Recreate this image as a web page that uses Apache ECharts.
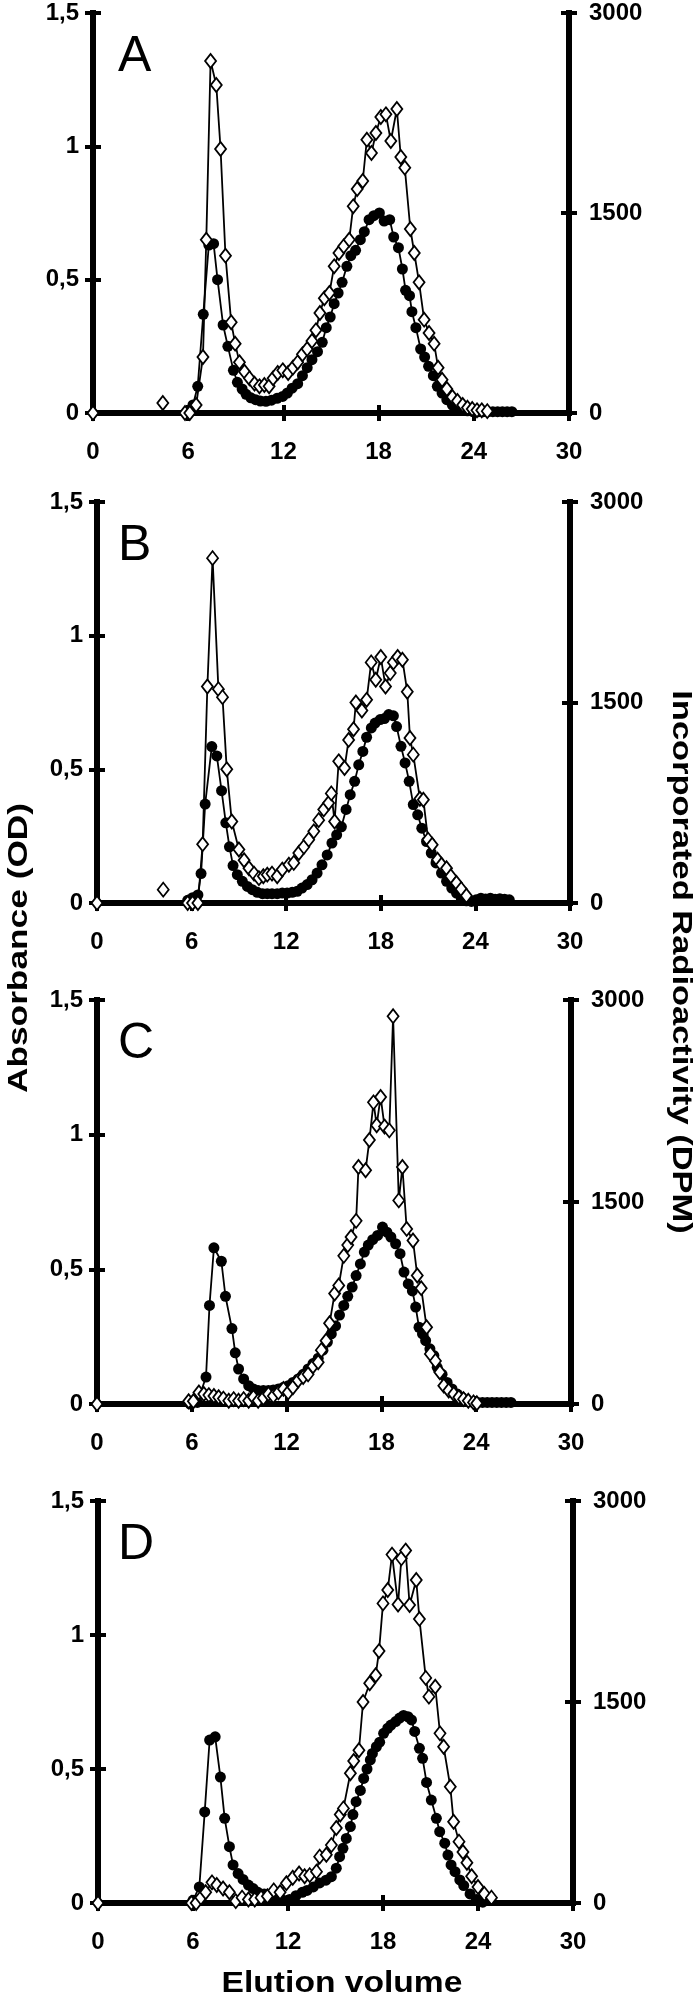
<!DOCTYPE html>
<html><head><meta charset="utf-8">
<script src="https://cdn.jsdelivr.net/npm/echarts@6/dist/echarts.min.js"></script>
<style>html,body{margin:0;padding:0;background:#fff}#c{width:700px;height:2007px}</style>
</head><body><div id="c"></div>
<script>
// ---- tick labels / titles ----
const volumeTicks = [0, 6, 12, 18, 24, 30];
const absTicks = [0, 0.5, 1, 1.5];
const dpmTicks = [0, 1500, 3000];
const panelLetters = ['A', 'B', 'C', 'D'];
const xTitle = 'Elution volume';
const leftTitle = 'Absorbance (OD)';
const rightTitle = 'Incorporated Radioactivity (DPM)';

// ---- Panel A ----
const aAbsVol = [6.0,6.3,6.6,6.95,7.3,7.6,7.85,8.2,8.5,8.85,9.1,9.4,9.65,9.95,10.25,10.55,10.9,11.25,11.6,11.95,12.25,12.55,12.9,13.2,13.5,13.8,14.15,14.45,14.7,14.95,15.2,15.45,15.7,16.0,16.25,16.55,16.85,17.1,17.4,17.7,18.05,18.35,18.7,18.95,19.25,19.5,19.7,19.95,20.1,20.35,20.65,20.9,21.15,21.45,21.7,22.0,22.3,22.65,22.95,23.3,23.6,23.95,24.3,24.6,24.9,25.2,25.5,25.8,26.1,26.4];
const aAbs = [0,0.03,0.10,0.37,0.63,0.635,0.50,0.33,0.25,0.16,0.115,0.09,0.07,0.057,0.05,0.045,0.044,0.048,0.055,0.062,0.075,0.093,0.11,0.14,0.17,0.20,0.23,0.265,0.32,0.36,0.41,0.45,0.49,0.55,0.59,0.61,0.65,0.68,0.725,0.74,0.75,0.72,0.725,0.66,0.62,0.54,0.46,0.44,0.38,0.32,0.24,0.21,0.175,0.14,0.10,0.075,0.05,0.03,0.02,0.012,0.008,0.005,0.005,0.005,0.005,0.005,0.005,0.005,0.005,0.005];
const aDpmVol = [0,2,4.4,5.1,5.8,6.1,6.5,6.93,7.14,7.41,7.77,8.04,8.35,8.71,8.96,9.23,9.55,9.86,10.18,10.49,10.8,11.1,11.35,11.64,11.96,12.3,12.6,12.9,13.2,13.5,13.8,14.05,14.3,14.58,14.9,15.2,15.5,15.8,16.15,16.4,16.65,17.0,17.26,17.55,17.83,18.14,18.46,18.77,19.15,19.4,19.65,20.0,20.25,20.55,20.87,21.18,21.5,21.75,22.0,22.3,22.65,22.97,23.3,23.6,23.9,24.2,24.5,24.85];
const aDpm = [0,null,75,null,0,0,60,420,1300,2640,2460,1980,1180,680,520,380,310,260,220,200,210,200,260,300,320,300,340,380,440,480,540,620,750,860,900,1100,1200,1250,1300,1550,1680,1740,2050,1950,2100,2220,2240,2040,2280,1920,1840,1380,1200,980,700,600,520,340,250,180,120,90,60,40,30,20,20,14];

// ---- Panel B ----
const bAbsVol = [5.75,6.06,6.4,6.6,6.86,7.28,7.6,7.9,8.17,8.4,8.63,8.9,9.22,9.54,9.85,10.17,10.5,10.8,11.1,11.43,11.75,12.06,12.38,12.7,13.0,13.33,13.64,13.96,14.27,14.6,14.9,15.2,15.5,15.8,16.06,16.34,16.6,16.86,17.1,17.4,17.64,17.96,18.23,18.5,18.8,19.0,19.28,19.54,19.8,20.06,20.34,20.6,20.9,21.2,21.5,21.85,22.17,22.5,22.8,23.1,23.43,23.75,24.05,24.35,24.65,24.95,25.25,25.55,25.85,26.15];
const bAbs = [0.01,0.02,0.03,0.11,0.37,0.585,0.55,0.42,0.30,0.21,0.14,0.106,0.081,0.062,0.05,0.04,0.035,0.035,0.035,0.035,0.037,0.037,0.04,0.044,0.056,0.069,0.087,0.112,0.143,0.18,0.224,0.255,0.285,0.35,0.405,0.455,0.517,0.567,0.62,0.655,0.673,0.686,0.69,0.705,0.70,0.66,0.586,0.524,0.455,0.368,0.33,0.28,0.23,0.187,0.15,0.112,0.081,0.056,0.037,0.019,0.008,0.006,0.012,0.018,0.015,0.018,0.014,0.016,0.014,0.012];
const bDpmVol = [0,2,4.2,5.0,5.75,6.06,6.4,6.7,7.0,7.33,7.7,7.96,8.23,8.55,9.0,9.33,9.64,9.96,10.27,10.55,10.8,11.1,11.43,11.75,12.17,12.48,12.8,13.12,13.43,13.75,14.06,14.38,14.69,14.86,15.07,15.33,15.7,15.96,16.27,16.42,16.8,17.1,17.39,17.68,18.0,18.3,18.6,18.8,19.07,19.37,19.68,19.85,20.06,20.48,20.7,21.0,21.26,21.6,21.85,22.17,22.44,22.8,23.1,23.43];
const bDpm = [0,null,100,null,0,0,0,440,1620,2580,1600,1540,1000,610,400,320,260,220,186,200,212,220,200,250,286,300,374,420,474,536,620,700,748,820,610,1060,1010,1220,1300,1500,1440,1520,1800,1670,1840,1620,1720,1800,1840,1820,1580,1234,1110,780,772,474,436,324,286,260,200,150,104,54];

// ---- Panel C ----
const cAbsVol = [5.9,6.35,6.9,7.12,7.4,7.87,8.13,8.54,8.75,8.96,9.28,9.6,9.9,10.2,10.53,10.85,11.16,11.48,11.8,12.1,12.4,12.73,13.05,13.36,13.67,14.0,14.3,14.58,14.83,15.1,15.35,15.62,15.87,16.15,16.4,16.67,16.92,17.17,17.45,17.76,18.07,18.35,18.6,18.9,19.18,19.43,19.7,19.96,20.17,20.38,20.6,20.8,21.07,21.32,21.53,21.84,22.16,22.47,22.8,23.1,23.4,23.8,24.1,24.4,24.7,25.0,25.3,25.6,25.9,26.2];
const cAbs = [0,0.006,0.10,0.366,0.58,0.53,0.40,0.28,0.19,0.13,0.093,0.068,0.056,0.05,0.05,0.05,0.052,0.056,0.062,0.068,0.08,0.093,0.11,0.13,0.15,0.17,0.20,0.23,0.26,0.29,0.33,0.366,0.40,0.434,0.477,0.52,0.564,0.59,0.61,0.626,0.657,0.638,0.62,0.595,0.558,0.49,0.446,0.42,0.36,0.285,0.26,0.235,0.205,0.18,0.136,0.11,0.08,0.056,0.037,0.025,0.012,0.006,0.006,0.006,0.006,0.006,0.006,0.006,0.006,0.006];
const cDpmVol = [0,3,5.8,6.1,6.45,6.76,7.08,7.4,7.7,8.0,8.34,8.65,8.96,9.28,9.6,9.9,10.2,10.53,10.85,11.16,11.48,11.8,12.1,12.4,12.73,13.05,13.36,13.67,14.0,14.2,14.5,14.72,15.04,15.3,15.62,15.87,16.08,16.4,16.55,17.0,17.24,17.5,17.7,17.95,18.2,18.5,18.74,19.1,19.33,19.6,20.0,20.27,20.52,20.86,21.1,21.42,21.7,21.95,22.26,22.58,22.9,23.2,23.5,23.83,24.04];
const cDpm = [0,null,20,20,86,74,66,60,50,40,24,36,24,36,24,50,24,44,74,60,86,112,86,124,174,200,220,280,310,400,470,600,820,880,1100,1180,1240,1360,1760,1736,1960,2240,2070,2280,2060,2032,2880,1512,1760,1300,1214,954,860,570,372,320,236,136,100,74,50,36,24,12,6];

// ---- Panel D ----
const dAbsVol = [6.0,6.4,6.74,7.05,7.4,7.73,8.0,8.3,8.53,8.85,9.16,9.5,9.8,10.1,10.5,10.9,11.3,11.7,12.1,12.5,12.9,13.2,13.6,14.0,14.4,14.74,15.05,15.26,15.47,15.68,15.94,16.1,16.3,16.57,16.78,16.99,17.2,17.33,17.58,17.79,18.04,18.3,18.5,18.8,19.05,19.3,19.58,19.8,20.0,20.3,20.5,20.75,21.05,21.37,21.58,21.9,22.1,22.3,22.55,22.85,23.1,23.5,23.9,24.3];
const dAbs = [0.01,0.06,0.34,0.608,0.62,0.47,0.316,0.21,0.142,0.11,0.088,0.067,0.054,0.04,0.034,0.027,0.015,0.01,0.013,0.027,0.04,0.047,0.06,0.075,0.085,0.098,0.13,0.173,0.204,0.241,0.285,0.33,0.378,0.42,0.465,0.50,0.534,0.558,0.583,0.60,0.633,0.652,0.664,0.677,0.69,0.70,0.695,0.683,0.64,0.577,0.54,0.45,0.384,0.316,0.266,0.223,0.179,0.142,0.117,0.086,0.065,0.034,0.013,0.003];
const dDpmVol = [0,3,5.9,6.2,6.5,6.8,7.2,7.5,7.9,8.3,8.7,9.1,9.5,9.9,10.3,10.7,11.1,11.5,11.9,12.3,12.7,13.05,13.37,13.8,14.0,14.42,14.74,15.05,15.3,15.5,15.94,16.15,16.48,16.74,17.16,17.54,17.75,18.0,18.3,18.57,18.95,19.16,19.43,19.68,20.1,20.3,20.7,20.9,21.3,21.6,21.83,22.25,22.46,22.8,23.05,23.3,23.6,24.0,24.4,24.85];
const dDpm = [0,null,0,0,40,80,154,134,108,80,14,40,26,26,40,50,94,80,148,188,220,200,208,234,346,360,432,560,660,706,968,1060,1140,1500,1640,1700,1880,2236,2336,2600,2228,2572,2630,2224,2410,2120,1680,1540,1614,1266,1166,868,606,458,380,300,200,120,68,40];

// ---- layout (positions only) ----
const layout = [
  {left: 93, right: 569, top: 13,   height: 400},
  {left: 97, right: 570, top: 502,  height: 401},
  {left: 97, right: 571, top: 1000, height: 404},
  {left: 98, right: 573, top: 1501, height: 402}
];
const panelData = [
  [aAbsVol, aAbs, aDpmVol, aDpm],
  [bAbsVol, bAbs, bDpmVol, bDpm],
  [cAbsVol, cAbs, cDpmVol, cDpm],
  [dAbsVol, dAbs, dDpmVol, dDpm]
];

const FONT = "'Liberation Sans Narrow','Liberation Sans',Arial,sans-serif";
const TFONT = "'Liberation Sans',Arial,sans-serif";
const zip = (xs, ys) => xs.map((x, i) => [x, ys[i] == null ? '-' : ys[i]]);

const grid = [], xAxis = [], yAxis = [], series = [], graphic = [];
const lineAx = {lineStyle: {color: '#000', width: 6, cap: 'square'}};
const tickOut = {show: true, inside: false, length: 8, lineStyle: {color: '#000', width: 4}};
const tickIn = {show: true, inside: true, length: 8, lineStyle: {color: '#000', width: 4}};
const lab = {color: '#000', fontSize: 24, fontWeight: 'bold', fontFamily: FONT, showMinLabel: true, showMaxLabel: true};

layout.forEach((L, i) => {
  grid.push({left: L.left, top: L.top, width: L.right - L.left, height: L.height, containLabel: false});
  const xBase = {gridIndex: i, type: 'value', min: volumeTicks[0], max: volumeTicks[volumeTicks.length - 1],
    interval: volumeTicks[1] - volumeTicks[0], position: 'bottom', axisLine: lineAx, splitLine: {show: false}};
  xAxis.push(Object.assign({}, xBase, {axisTick: tickOut, axisLabel: Object.assign({}, lab, {margin: 27})}));
  xAxis.push(Object.assign({}, xBase, {axisTick: tickIn, axisLabel: {show: false}}));
  const yL = {gridIndex: i, type: 'value', position: 'left', min: absTicks[0], max: absTicks[absTicks.length - 1],
    interval: absTicks[1] - absTicks[0], axisLine: Object.assign({show: true}, lineAx), splitLine: {show: false}};
  yAxis.push(Object.assign({}, yL, {axisTick: tickOut,
    axisLabel: Object.assign({}, lab, {margin: 14, formatter: v => String(v).replace('.', ',')})}));
  yAxis.push(Object.assign({}, yL, {axisTick: tickIn, axisLabel: {show: false}}));
  const yR = {gridIndex: i, type: 'value', position: 'right', min: dpmTicks[0], max: dpmTicks[dpmTicks.length - 1],
    interval: dpmTicks[1] - dpmTicks[0], axisLine: Object.assign({show: true}, lineAx), splitLine: {show: false}};
  yAxis.push(Object.assign({}, yR, {axisTick: tickOut,
    axisLabel: Object.assign({}, lab, {margin: 20, formatter: v => String(v)})}));
  yAxis.push(Object.assign({}, yR, {axisTick: tickIn, axisLabel: {show: false}}));

  const [av, a, dv, d] = panelData[i];
  series.push({type: 'line', xAxisIndex: 2 * i, yAxisIndex: 4 * i, data: zip(av, a),
    symbol: 'circle', symbolSize: 11, itemStyle: {color: '#000'},
    lineStyle: {color: '#000', width: 1.8}, clip: false, z: 3, emphasis: {disabled: true}});
  series.push({type: 'line', xAxisIndex: 2 * i, yAxisIndex: 4 * i + 2, data: zip(dv, d),
    symbol: 'diamond', symbolSize: [11, 14], itemStyle: {color: '#fff', borderColor: '#000', borderWidth: 1.8},
    lineStyle: {color: '#000', width: 1.8}, clip: false, z: 4, emphasis: {disabled: true}});

  graphic.push({type: 'text', x: 118, y: L.top + 44, z: 10,
    style: {text: panelLetters[i], fontSize: 50, fontWeight: 'normal', fontFamily: TFONT,
      fill: '#000', align: 'left', verticalAlign: 'middle'}});
});

graphic.push({type: 'text', x: 19, y: 948, rotation: Math.PI / 2, scaleX: 1.26, z: 10,
  style: {text: leftTitle, fontSize: 28, fontWeight: 'bold', fontFamily: TFONT,
    fill: '#000', align: 'center', verticalAlign: 'middle'}});
graphic.push({type: 'text', x: 681, y: 962, rotation: -Math.PI / 2, scaleX: 1.23, z: 10,
  style: {text: rightTitle, fontSize: 28, fontWeight: 'bold', fontFamily: TFONT,
    fill: '#000', align: 'center', verticalAlign: 'middle'}});
graphic.push({type: 'text', x: 342, y: 1984, scaleX: 1.12, z: 10,
  style: {text: xTitle, fontSize: 30, fontWeight: 'bold', fontFamily: TFONT,
    fill: '#000', align: 'center', verticalAlign: 'middle'}});

const chart = echarts.init(document.getElementById('c'), null, {renderer: 'canvas'});
chart.setOption({animation: false, backgroundColor: '#fff', grid, xAxis, yAxis, series, graphic});
</script></body></html>
